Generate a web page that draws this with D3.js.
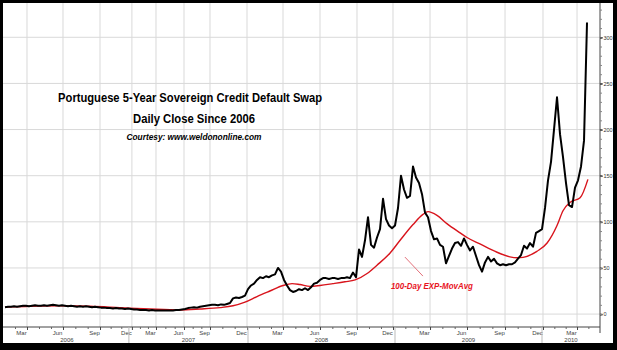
<!DOCTYPE html>
<html><head><meta charset="utf-8">
<script src="https://cdn.jsdelivr.net/npm/d3@7"></script>
<style>body{margin:0;background:#000}svg{display:block}</style>
</head><body><svg id="c" width="617" height="350"></svg>
<script>
// Daily close (sampled), Portuguese 5Y CDS, bps — one value per bar index
const cds = [
7.5,8,8,8.5,8,8.5,9,9,8.5,9,
9.5,9,9,9.5,9,9.5,10,9.5,9,9.5,
9,8.5,9,8.5,8,8.5,8,8.5,8,7.5,
8,7.5,7,7,6.5,6.5,6,6.5,6,6,
5.5,6,5.5,5,5,4.5,4.5,4.5,4,4.5,
4,4,4,4,4,4,4,4.5,4.5,5,
5.5,6.5,7,7.5,7,8,8.5,9,9.5,10,
10,9.5,10.5,10,11,12,17,18,17.5,18.5,
20,27,31,33,37,40,39,41,40,42,
43,50,46,37,31,26,24,25,27,26,
28,26,29,33,34,37,39,39,38,39,
39,38,39,39,40,39,45,40,70,62,
80,105,75,72,83,92,125,103,96,93,
96,115,150,135,126,128,160,148,142,130,
110,105,90,81,82,75,73,55,63,71,
77,78,74,82,75,69,73,63,53,46,
56,62,57,60,55,53,54,53,54,54,
56,60,64,74,71,77,73,88,90,92,
115,145,165,200,235,195,170,142,118,116,
137,145,160,188,316
];
// 100-day exponential moving average: [bar index, bps]
const ema = [
[0,7.5],[8.3,8.5],[18.3,9],[28.3,8.5],[38.3,7],[48.3,5.5],[58.3,4.5],[65,5.5],
[71.7,7],[76,9],[80,13],[84,19],[88.3,25],[92.7,31],[95.7,33],[98.3,32],
[101.7,30],[105,31],[109.3,33],[113.3,35],[116.7,37],[120.7,44],[124,53],
[128.3,66],[131.7,80],[136,97],[139.3,108],[141,111],[144,107],[147.3,98],
[151.7,88],[154,83],[158.3,76],[164,67],[168.3,62],[170.7,61],[172.7,61.5],
[177.3,68],[180.7,77],[184,96],[186,112],[188.3,121],[191.7,126],[194.3,146]
];
const monthLabels = ["Mar","Jun","Sep","Dec","Mar","Jun","Sep","Dec","Mar","Jun","Sep","Dec","Mar","Jun","Sep","Dec","Mar"];
const monthIdx = [7.33,19.33,31.67,42.3,50.33,59.67,68.33,80.67,92.67,105,117.33,129.33,141.67,154,166.67,179.33,190.67];
const yearLabels = ["2006","2007","2008","2009","2010"];
const yearBounds = [0,41.3,81,130,179,198.33];
const yTicks = [0,50,100,150,200,250,300];
const titleLines = ["Portuguese 5-Year Sovereign Credit Default Swap","Daily Close Since 2006","Courtesy: www.weldononline.com"];
const emaLabel = "100-Day EXP-MovAvg";

const svg = d3.select("#c");
const W = 617, H = 350;
const L = 5, R = 600, T = 3, B = 327;
svg.append("rect").attr("width",W).attr("height",H).attr("fill","#000");
svg.append("rect").attr("x",3).attr("y",3).attr("width",610).attr("height",340).attr("fill","#fff");

const x = d3.scaleLinear().domain([0,198.33]).range([L,R]);
const y = d3.scaleLinear().domain([-14,335]).range([B,5]);
const af = "'Liberation Sans Narrow','Arial Narrow','Liberation Sans',sans-serif";

// grid
const g = svg.append("g");
g.selectAll("line.vg").data(monthIdx).join("line")
  .attr("x1",d=>x(d)).attr("x2",d=>x(d)).attr("y1",T).attr("y2",B)
  .attr("stroke","#d9d9d9").attr("stroke-width",1);
g.selectAll("line.hg").data(yTicks).join("line")
  .attr("x1",3).attr("x2",R).attr("y1",d=>y(d)).attr("y2",d=>y(d))
  .attr("stroke","#d9d9d9").attr("stroke-width",1);

// annotation pointer
svg.append("line")
  .attr("x1",x(133.3)).attr("y1",y(61.8)).attr("x2",x(139.3)).attr("y2",y(41.2))
  .attr("stroke","#e3707a").attr("stroke-width",1);

// lines
svg.append("path").datum(ema)
  .attr("d",d3.line().x(d=>x(d[0])).y(d=>y(d[1])).curve(d3.curveMonotoneX))
  .attr("fill","none").attr("stroke","#d8141c").attr("stroke-width",1.4);
svg.append("path").datum(cds)
  .attr("d",d3.line().x((d,i)=>x(i)).y(d=>y(d)))
  .attr("fill","none").attr("stroke","#000").attr("stroke-width",2).attr("stroke-linejoin","round");

// axes frame
svg.append("line").attr("x1",3).attr("x2",R).attr("y1",B).attr("y2",B).attr("stroke","#444").attr("stroke-width",1);
svg.append("line").attr("x1",R).attr("x2",R).attr("y1",T).attr("y2",333).attr("stroke","#444").attr("stroke-width",1);

// right axis
const ya = svg.append("g").attr("transform",`translate(${R},0)`)
  .call(d3.axisRight(y).tickValues(yTicks).tickSize(2.5).tickPadding(1));
ya.select(".domain").remove();
ya.selectAll("line").attr("stroke","#000").attr("stroke-width",1.6);
ya.selectAll("text").attr("font-family",af).attr("font-size",5.5).attr("fill","#333");
const ym = svg.append("g").attr("transform",`translate(${R},0)`)
  .call(d3.axisRight(y).tickValues(d3.range(0,331,10)).tickSize(2).tickFormat(""));
ym.select(".domain").remove();
ym.selectAll("line").attr("stroke","#888");

// bottom axis: minor month ticks
const minor = [];
for (let k=0;k<monthIdx.length-1;k++){const a=monthIdx[k],b=monthIdx[k+1];minor.push(a+(b-a)/3,a+2*(b-a)/3);}
minor.push(monthIdx[0]-(monthIdx[1]-monthIdx[0])/3, monthIdx[0]-2*(monthIdx[1]-monthIdx[0])/3);
const last = monthIdx[monthIdx.length-1], prev = monthIdx[monthIdx.length-2];
minor.push(last+(last-prev)/3, last+2*(last-prev)/3);
const xm = svg.append("g").attr("transform",`translate(0,${B})`)
  .call(d3.axisBottom(x).tickValues(minor.filter(d=>d>0&&d<198)).tickSize(2).tickFormat(""));
xm.select(".domain").remove();
xm.selectAll("line").attr("stroke","#666");
const xa = svg.append("g").attr("transform",`translate(0,${B})`)
  .call(d3.axisBottom(x).tickValues(monthIdx).tickSize(3).tickPadding(1).tickFormat((d,i)=>monthLabels[i]));
xa.select(".domain").remove();
xa.selectAll("line").attr("stroke","#444");
xa.selectAll("text").attr("dx",-6).attr("font-family",af).attr("font-size",6).attr("fill","#444");

// year dividers and labels
svg.selectAll("line.yd").data(yearBounds.slice(1,-1)).join("line")
  .attr("x1",d=>x(d)).attr("x2",d=>x(d)).attr("y1",B).attr("y2",343)
  .attr("stroke","#bbb").attr("stroke-width",1);
svg.selectAll("text.yl").data(yearLabels).join("text")
  .attr("x",(d,i)=>(x(yearBounds[i])+x(yearBounds[i+1]))/2).attr("y",341.5)
  .attr("text-anchor","middle")
  .attr("font-family",af).attr("font-size",6).attr("fill","#444")
  .text(d=>d);

// titles
const tf = "'Liberation Sans Narrow','Arial Narrow','Liberation Sans',Arial,sans-serif";
const tpos = [[61.7,229.8,12.5,264,"normal"],[63,207,12.5,122,"normal"],[63,188.6,9,135,"italic"]];
titleLines.forEach((t,i)=>{
  svg.append("text").attr("x",x(tpos[i][0])).attr("y",y(tpos[i][1]))
    .attr("text-anchor","middle").attr("font-family",tf).attr("font-weight","bold")
    .attr("font-style",tpos[i][4]).attr("font-size",tpos[i][2])
    .attr("textLength",tpos[i][3]).attr("lengthAdjust","spacingAndGlyphs")
    .attr("fill","#000").text(t);
});
svg.append("text").attr("x",x(142.3)).attr("y",y(27.1))
  .attr("text-anchor","middle").attr("font-family",tf).attr("font-weight","bold")
  .attr("font-style","italic").attr("font-size",9)
  .attr("textLength",82).attr("lengthAdjust","spacingAndGlyphs")
  .attr("fill","#e8141e").text(emaLabel);
</script></body></html>
